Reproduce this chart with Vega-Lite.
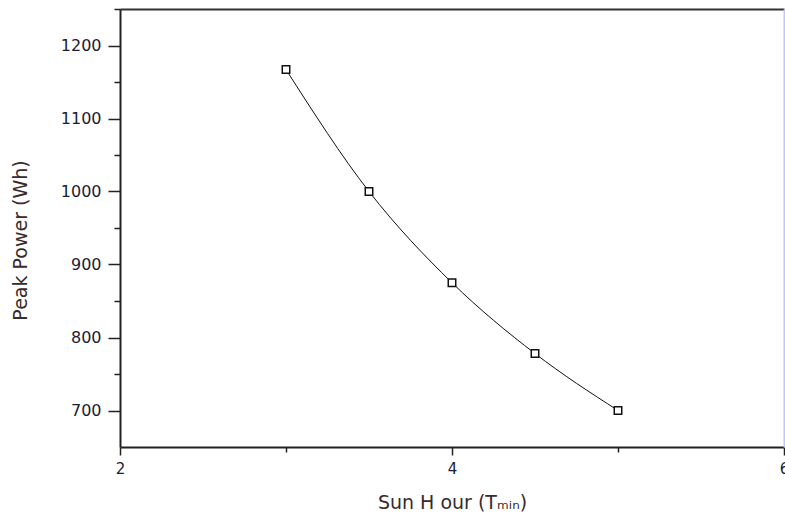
{
  "$schema": "https://vega.github.io/schema/vega-lite/v6.json",
  "autosize": "none",
  "width": 664,
  "height": 438,
  "padding": {"left": 120, "top": 9, "right": 1, "bottom": 72},
  "background": "white",
  "config": {
    "view": {"stroke": null},
    "axis": {
      "labelFont": "DejaVu Sans",
      "titleFont": "DejaVu Sans",
      "labelColor": "#1c1c34",
      "titleColor": "#3a2a2a",
      "domainColor": "#222222",
      "tickColor": "#222222",
      "grid": false
    }
  },
  "data": {
    "values": [
      {"sun_hour": 3.0, "peak_power": 1167},
      {"sun_hour": 3.5, "peak_power": 1000},
      {"sun_hour": 4.0, "peak_power": 875},
      {"sun_hour": 4.5, "peak_power": 778},
      {"sun_hour": 5.0, "peak_power": 700}
    ]
  },
  "resolve": {"axis": {"x": "independent", "y": "independent"}},
  "layer": [
    {
      "mark": {"type": "point", "opacity": 0},
      "encoding": {
        "x": {"field": "sun_hour", "type": "quantitative",
              "scale": {"domain": [2, 6], "nice": false, "zero": false},
              "axis": {"orient": "top", "ticks": false, "labels": false, "title": null, "domainWidth": 2, "domainColor": "#333333"}},
        "y": {"field": "peak_power", "type": "quantitative",
              "scale": {"domain": [650, 1250], "nice": false, "zero": false},
              "axis": {"orient": "right", "ticks": false, "labels": false, "title": null, "domainColor": "#c4c4ff", "domainWidth": 2}}
      }
    },
    {
      "mark": {"type": "point", "opacity": 0},
      "encoding": {
        "x": {"field": "sun_hour", "type": "quantitative",
              "axis": {"orient": "bottom", "values": [3, 5], "tickSize": 5, "tickWidth": 1.5, "labels": false, "domain": false, "title": null}},
        "y": {"field": "peak_power", "type": "quantitative",
              "axis": {"orient": "left", "values": [750, 850, 950, 1050, 1150, 1250], "tickSize": 6, "tickWidth": 1.5, "labels": false, "domain": false, "title": null}}
      }
    },
    {
      "mark": {"type": "line", "interpolate": "monotone", "color": "#111111", "strokeWidth": 1},
      "encoding": {
        "x": {"field": "sun_hour", "type": "quantitative",
              "axis": {"orient": "bottom", "values": [2, 4, 6], "format": "d", "tickSize": 8, "tickWidth": 1.5, "domainWidth": 2,
                       "labelFontSize": 15, "labelPadding": 6, "labelFlush": false, "labelBound": false,
                       "title": "Sun H our (Tₘᵢₙ)", "titleFontSize": 19, "titleFontWeight": "normal", "titlePadding": 17}},
        "y": {"field": "peak_power", "type": "quantitative",
              "axis": {"orient": "left", "values": [700, 800, 900, 1000, 1100, 1200], "format": "d", "tickSize": 12, "tickWidth": 1.5, "domainWidth": 2,
                       "labelFontSize": 16, "labelPadding": 7,
                       "title": "Peak Power (Wh)", "titleFontSize": 19, "titleFontWeight": "normal", "titlePadding": 30, "titleY": 231}}
      }
    },
    {
      "mark": {"type": "square", "size": 56, "filled": true, "fill": "white", "stroke": "#111111", "strokeWidth": 1.5, "opacity": 1},
      "encoding": {
        "x": {"field": "sun_hour", "type": "quantitative", "axis": null},
        "y": {"field": "peak_power", "type": "quantitative", "axis": null}
      }
    }
  ]
}
